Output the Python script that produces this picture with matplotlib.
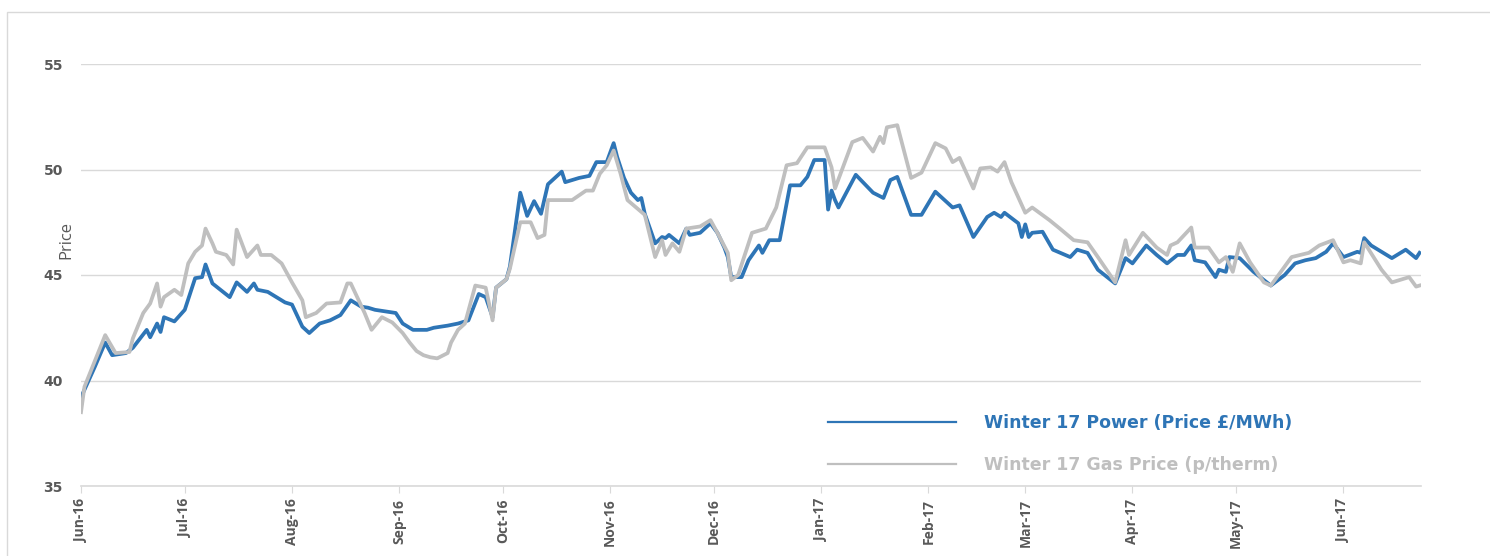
import matplotlib
matplotlib.use("Agg")
import matplotlib.pyplot as plt
import matplotlib.dates as mdates
import pandas as pd
from matplotlib.patches import Rectangle

# Winter 17 power price
power_dates = [
    "2016-06-01", "2016-06-05", "2016-06-08", "2016-06-10", "2016-06-14", "2016-06-16",
    "2016-06-20", "2016-06-21", "2016-06-23", "2016-06-24", "2016-06-25", "2016-06-28",
    "2016-07-01", "2016-07-04", "2016-07-06", "2016-07-07", "2016-07-09", "2016-07-14",
    "2016-07-16", "2016-07-19", "2016-07-21", "2016-07-22", "2016-07-25", "2016-07-30",
    "2016-08-01", "2016-08-04", "2016-08-06", "2016-08-09", "2016-08-12", "2016-08-15",
    "2016-08-18", "2016-08-21", "2016-08-23", "2016-08-25", "2016-08-31", "2016-09-02",
    "2016-09-05", "2016-09-09", "2016-09-11", "2016-09-15", "2016-09-18", "2016-09-21",
    "2016-09-24", "2016-09-26", "2016-09-28", "2016-09-29", "2016-10-02", "2016-10-03",
    "2016-10-06", "2016-10-08", "2016-10-10", "2016-10-12", "2016-10-14", "2016-10-18",
    "2016-10-19", "2016-10-23", "2016-10-26", "2016-10-28", "2016-10-31", "2016-11-02",
    "2016-11-03", "2016-11-05", "2016-11-07", "2016-11-09", "2016-11-10", "2016-11-11",
    "2016-11-14", "2016-11-16", "2016-11-17", "2016-11-18", "2016-11-21", "2016-11-23",
    "2016-11-24", "2016-11-27", "2016-11-30", "2016-12-02", "2016-12-04", "2016-12-05",
    "2016-12-06", "2016-12-09", "2016-12-11", "2016-12-14", "2016-12-15", "2016-12-17",
    "2016-12-20", "2016-12-23", "2016-12-26", "2016-12-28", "2016-12-30", "2017-01-02",
    "2017-01-03", "2017-01-04", "2017-01-05", "2017-01-06", "2017-01-11", "2017-01-16",
    "2017-01-19", "2017-01-21", "2017-01-23", "2017-01-27", "2017-01-30", "2017-02-03",
    "2017-02-08", "2017-02-10", "2017-02-14", "2017-02-18", "2017-02-20", "2017-02-22",
    "2017-02-23", "2017-02-27", "2017-02-28", "2017-03-01", "2017-03-02", "2017-03-03",
    "2017-03-06", "2017-03-09", "2017-03-14", "2017-03-16", "2017-03-19", "2017-03-22",
    "2017-03-27", "2017-03-30", "2017-04-01", "2017-04-05", "2017-04-08", "2017-04-11",
    "2017-04-14", "2017-04-16", "2017-04-18", "2017-04-19", "2017-04-22", "2017-04-25",
    "2017-04-26", "2017-04-28", "2017-04-29", "2017-05-02", "2017-05-06", "2017-05-11",
    "2017-05-15", "2017-05-18", "2017-05-21", "2017-05-24", "2017-05-27", "2017-05-29",
    "2017-06-01", "2017-06-05", "2017-06-06", "2017-06-07", "2017-06-09", "2017-06-15",
    "2017-06-19", "2017-06-22", "2017-06-23",
]
power_vals = [
    39.2, 40.65, 41.8, 41.2, 41.3, 41.55,
    42.4, 42.05, 42.7, 42.3, 43.0, 42.8,
    43.35, 44.85, 44.9, 45.5, 44.6, 43.95,
    44.65, 44.2, 44.6, 44.3, 44.2, 43.7,
    43.6, 42.55, 42.25, 42.7, 42.85, 43.1,
    43.8, 43.5, 43.45, 43.35, 43.2, 42.7,
    42.4, 42.4, 42.5, 42.6, 42.7, 42.85,
    44.1, 43.95, 43.0, 44.4, 44.8, 45.4,
    48.9, 47.8, 48.5, 47.9, 49.3, 49.9,
    49.4, 49.6, 49.7, 50.35, 50.35, 51.25,
    50.6, 49.6, 48.9, 48.55, 48.65, 47.9,
    46.5, 46.8, 46.75, 46.9, 46.5, 47.2,
    46.9, 47.0, 47.45, 47.0, 46.3, 45.85,
    44.9, 44.9, 45.7, 46.4, 46.05, 46.65,
    46.65, 49.25, 49.25, 49.65, 50.45, 50.45,
    48.1, 49.0, 48.55, 48.2, 49.75, 48.9,
    48.65, 49.5, 49.65, 47.85, 47.85, 48.95,
    48.2, 48.3, 46.8, 47.75, 47.95, 47.75,
    47.95, 47.45, 46.8, 47.4, 46.8, 47.0,
    47.05, 46.2, 45.85, 46.2, 46.05, 45.25,
    44.6, 45.8, 45.55, 46.4, 45.95, 45.55,
    45.95, 45.95, 46.4, 45.7, 45.6, 44.9,
    45.25, 45.15, 45.85, 45.8, 45.15, 44.5,
    45.0, 45.55, 45.7, 45.8, 46.1, 46.5,
    45.85, 46.1, 46.05, 46.75, 46.4, 45.8,
    46.2, 45.8, 46.05,
]

# Winter 17 gas price
gas_dates = [
    "2016-06-01", "2016-06-02", "2016-06-08", "2016-06-11", "2016-06-15", "2016-06-16",
    "2016-06-19", "2016-06-21", "2016-06-23", "2016-06-24", "2016-06-25", "2016-06-28",
    "2016-06-30", "2016-07-02", "2016-07-04", "2016-07-06", "2016-07-07", "2016-07-09",
    "2016-07-10", "2016-07-13", "2016-07-15", "2016-07-16", "2016-07-19", "2016-07-22",
    "2016-07-23", "2016-07-26", "2016-07-29", "2016-08-01", "2016-08-04", "2016-08-05",
    "2016-08-08", "2016-08-11", "2016-08-15", "2016-08-17", "2016-08-18", "2016-08-22",
    "2016-08-24", "2016-08-27", "2016-08-30", "2016-09-02", "2016-09-04", "2016-09-06",
    "2016-09-08", "2016-09-10", "2016-09-12", "2016-09-15", "2016-09-16", "2016-09-18",
    "2016-09-20", "2016-09-23", "2016-09-26", "2016-09-28", "2016-09-29", "2016-10-02",
    "2016-10-03", "2016-10-06", "2016-10-09", "2016-10-11", "2016-10-13", "2016-10-14",
    "2016-10-21", "2016-10-25", "2016-10-27", "2016-10-29", "2016-10-31", "2016-11-02",
    "2016-11-04", "2016-11-06", "2016-11-11", "2016-11-14", "2016-11-16", "2016-11-17",
    "2016-11-19", "2016-11-21", "2016-11-23", "2016-11-27", "2016-11-30", "2016-12-02",
    "2016-12-05", "2016-12-06", "2016-12-08", "2016-12-12", "2016-12-14", "2016-12-16",
    "2016-12-19", "2016-12-22", "2016-12-25", "2016-12-28", "2017-01-02", "2017-01-04",
    "2017-01-05", "2017-01-10", "2017-01-13", "2017-01-16", "2017-01-18", "2017-01-19",
    "2017-01-20", "2017-01-23", "2017-01-27", "2017-01-30", "2017-02-03", "2017-02-06",
    "2017-02-08", "2017-02-10", "2017-02-14", "2017-02-16", "2017-02-19", "2017-02-21",
    "2017-02-23", "2017-02-25", "2017-03-01", "2017-03-03", "2017-03-08", "2017-03-11",
    "2017-03-15", "2017-03-19", "2017-03-22", "2017-03-27", "2017-03-30", "2017-03-31",
    "2017-04-04", "2017-04-08", "2017-04-11", "2017-04-12", "2017-04-14", "2017-04-18",
    "2017-04-19", "2017-04-23", "2017-04-26", "2017-04-28", "2017-04-30", "2017-05-02",
    "2017-05-05", "2017-05-09", "2017-05-11", "2017-05-17", "2017-05-22", "2017-05-25",
    "2017-05-29", "2017-06-01", "2017-06-03", "2017-06-06", "2017-06-07", "2017-06-12",
    "2017-06-15", "2017-06-20", "2017-06-22", "2017-06-23",
]
gas_vals = [
    38.5, 39.7, 42.15, 41.3, 41.35, 42.0,
    43.2, 43.65, 44.6, 43.5, 43.95, 44.3,
    44.05, 45.55, 46.1, 46.4, 47.2, 46.5,
    46.1, 45.95, 45.5, 47.15, 45.85, 46.4,
    45.95, 45.95, 45.55, 44.65, 43.8, 43.0,
    43.2, 43.65, 43.7, 44.6, 44.6, 43.2,
    42.4, 43.0, 42.75, 42.25, 41.8, 41.4,
    41.2, 41.1, 41.05, 41.3, 41.8, 42.4,
    42.7, 44.5, 44.4, 42.85, 44.4, 44.8,
    45.3, 47.5, 47.5, 46.75, 46.9, 48.55,
    48.55, 49.0, 49.0, 49.8, 50.2, 50.9,
    49.8, 48.55, 47.85, 45.85, 46.65, 45.95,
    46.5, 46.1, 47.2, 47.3, 47.6, 47.0,
    46.05, 44.75, 45.0, 47.0, 47.1, 47.2,
    48.2, 50.2, 50.3, 51.05, 51.05, 50.1,
    49.1, 51.3, 51.5, 50.85, 51.55, 51.25,
    52.0, 52.1, 49.6, 49.85, 51.25, 51.0,
    50.35, 50.55, 49.1, 50.05, 50.1, 49.9,
    50.35, 49.4, 47.95, 48.2, 47.6, 47.2,
    46.65, 46.55, 45.85, 44.65, 46.65, 45.95,
    47.0, 46.3, 45.95, 46.4, 46.55, 47.25,
    46.3, 46.3, 45.6, 45.85, 45.15, 46.5,
    45.6, 44.65, 44.5, 45.85, 46.05, 46.4,
    46.65, 45.6, 45.7, 45.55, 46.55, 45.25,
    44.65, 44.9, 44.45, 44.5,
]

labels = ["Winter 17 Power (Price £/MWh)", "Winter 17 Gas Price (p/therm)"]
blue = "#2E75B6"
grey = "#BFBFBF"
txt = "#595959"

plt.rcParams["font.family"] = ["Open Sans", "DejaVu Sans"]

fig = plt.figure(figsize=(14.9, 5.56), dpi=100)
ax = fig.add_axes([81 / 1490, 1 - 486 / 556, (1421 - 81) / 1490, (486 - 64) / 556])

ax.plot(pd.to_datetime(power_dates), power_vals, color=blue, lw=2.7, label=labels[0],
        solid_joinstyle="round", zorder=3)
ax.plot(pd.to_datetime(gas_dates), gas_vals, color=grey, lw=2.7, label=labels[1],
        solid_joinstyle="round", zorder=4)

ax.set_ylim(35, 55)
ax.set_yticks([35, 40, 45, 50, 55])
ax.set_xlim(pd.Timestamp("2016-06-01"), pd.Timestamp("2017-06-23 10:00"))
ax.xaxis.set_major_locator(mdates.MonthLocator())
ax.xaxis.set_major_formatter(mdates.DateFormatter("%b-%y"))

ax.grid(axis="y", color="#D9D9D9", lw=1)
ax.set_axisbelow(True)
for s in ["top", "right", "left"]:
    ax.spines[s].set_visible(False)
ax.spines["bottom"].set_color("#D9D9D9")
ax.spines["bottom"].set_linewidth(1.2)

ax.tick_params(axis="y", length=0, pad=13, labelcolor=txt)
ax.tick_params(axis="x", length=5, color="#D9D9D9", pad=4, labelsize=10, labelcolor=txt,
               labelrotation=90)
for t in ax.get_yticklabels():
    t.set_fontfamily("DejaVu Sans")
    t.set_fontsize(10)
    t.set_fontweight("bold")
for t in ax.get_xticklabels():
    t.set_fontweight("bold")

fig.text(66 / 1490, 1 - 240 / 556, "Price", rotation=90, ha="center", va="center",
         fontsize=12, color=txt)

leg = ax.legend(loc="upper left", bbox_to_anchor=(812 / 1490, 1 - 398 / 556),
                bbox_transform=fig.transFigure, frameon=False,
                handlelength=7.4, handletextpad=1.6, labelspacing=1.42,
                labelcolor=[blue, grey],
                prop={"family": "DejaVu Sans", "weight": "bold", "size": 12.5})
for line in leg.get_lines():
    line.set_linewidth(1.6)

# light chart-area border
fig.patches.append(Rectangle((7 / 1490, -0.05), 1.1, 1.05 - 12 / 556, transform=fig.transFigure,
                             fill=False, edgecolor="#D9D9D9", lw=1))

fig.savefig("out.png", dpi=100)
